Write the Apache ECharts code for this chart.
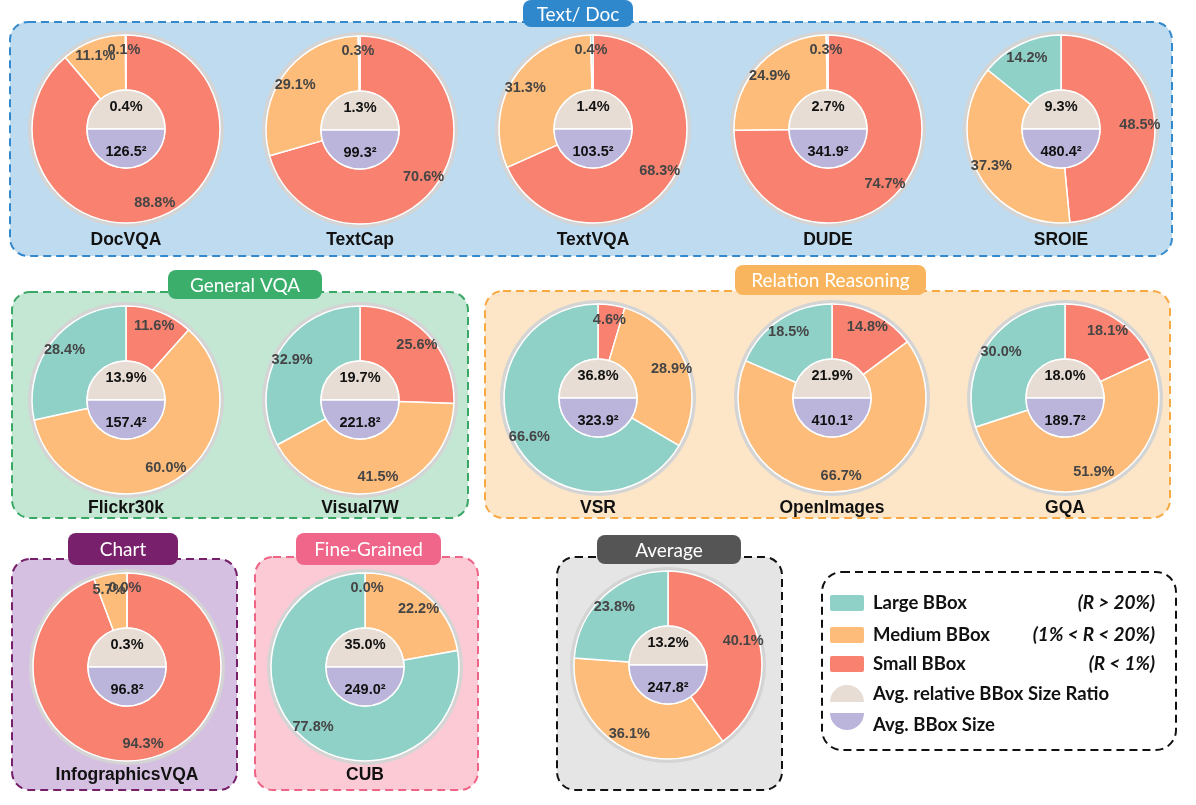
<!DOCTYPE html>
<html><head><meta charset="utf-8">
<script src="https://cdn.jsdelivr.net/npm/echarts@6/dist/echarts.min.js"></script>
<style>html,body{margin:0;padding:0;background:#fff}#c{width:1196px;height:805px}</style>
</head><body><div id="c"></div>
<script>
// ---- data ----
const names  = ['DocVQA','TextCap','TextVQA','DUDE','SROIE','Flickr30k','Visual7W','VSR','OpenImages','GQA','InfographicsVQA','CUB','Average'];
const small  = [88.8, 70.6, 68.3, 74.7, 48.5, 11.6, 25.6,  4.6, 14.8, 18.1, 94.3,  0.0, 40.1];
const medium = [11.1, 29.1, 31.3, 24.9, 37.3, 60.0, 41.5, 28.9, 66.7, 51.9,  5.7, 22.2, 36.1];
const large  = [ 0.1,  0.3,  0.4,  0.3, 14.2, 28.4, 32.9, 66.6, 18.5, 30.0,  0.0, 77.8, 23.8];
const ratio  = [ 0.4,  1.3,  1.4,  2.7,  9.3, 13.9, 19.7, 36.8, 21.9, 18.0,  0.3, 35.0, 13.2];
const bsize  = [126.5, 99.3, 103.5, 341.9, 480.4, 157.4, 221.8, 323.9, 410.1, 189.7, 96.8, 249.0, 247.8];
const groups = ['Text/ Doc','General VQA','Relation Reasoning','Chart','Fine-Grained','Average'];
const legendNames = ['Large BBox','Medium BBox','Small BBox','Avg. relative BBox Size Ratio','Avg. BBox Size'];
const legendNotes = ['(R > 20%)','(1% < R < 20%)','(R < 1%)','',''];

// ---- layout ----
const centers = [[126,129],[360,130],[593,129],[828,129],[1061,129],
                 [126,400],[360,400],[598,398],[832,398],[1065,398],
                 [127,667],[365,667],[668,665]];
const nameY = [240,240,240,240,240,508,508,508,508,508,775,775,null];
const C = {large:'#8fd0c7', medium:'#fdbc79', small:'#f8826f', ratio:'#e7ddd4', size:'#bbb5db', ring:'#d4d4d4'};
const panels = [
  {x:10,y:22,w:1162,h:234,fill:'#bfdbef',stroke:'#3489cc',hx:523,hy:0,hw:110,hh:27,hfill:'#2f87cc'},
  {x:12,y:292,w:456,h:226,fill:'#c4e7d4',stroke:'#3aa865',hx:168,hy:270,hw:154,hh:29,hfill:'#3bae6c'},
  {x:485,y:291,w:685,h:227,fill:'#fde6c8',stroke:'#f7a840',hx:735,hy:265,hw:191,hh:30,hfill:'#f9b55e'},
  {x:12,y:559,w:225,h:231,fill:'#d5c0e1',stroke:'#76206a',hx:68,hy:533,hw:110,hh:32,hfill:'#78206c'},
  {x:255,y:557,w:223,h:233,fill:'#fccad5',stroke:'#ee6485',hx:296,hy:533,hw:145,hh:32,hfill:'#f0658a'},
  {x:557,y:557,w:225,h:233,fill:'#e5e5e5',stroke:'#111',hx:597,hy:535,hw:144,hh:29,hfill:'#555'}
];

const series = [];
const graphics = [];
const LF = 'Liberation Sans, Arial, sans-serif';

panels.forEach((p,i)=>{
  graphics.push({type:'rect',z:-10,shape:{x:p.x,y:p.y,width:p.w,height:p.h,r:18},
    style:{fill:p.fill,stroke:p.stroke,lineWidth:2,lineDash:[8,5]}});
  graphics.push({type:'rect',z:-5,shape:{x:p.hx,y:p.hy,width:p.hw,height:p.hh,r:8},style:{fill:p.hfill}});
  graphics.push({type:'text',z:-4,x:p.hx+p.hw/2,y:p.hy+p.hh/2+1,
    style:{text:groups[i],fill:'#fff',font:'19px Lato, Carlito, sans-serif',textAlign:'center',textVerticalAlign:'middle'}});
});

names.forEach((n,i)=>{
  const c = centers[i];
  // outer grey ring
  series.push({type:'pie',center:c,radius:[93,98],silent:true,label:{show:false},labelLine:{show:false},
    itemStyle:{color:C.ring},data:[{value:1}]});
  // donut
  series.push({type:'pie',center:c,radius:[39,94],startAngle:90,clockwise:true,silent:true,avoidLabelOverlap:false,
    label:{show:false},labelLine:{show:false},itemStyle:{borderColor:'#fff',borderWidth:1.5},
    data:[{value:small[i],itemStyle:{color:C.small}},{value:medium[i],itemStyle:{color:C.medium}},{value:large[i],itemStyle:{color:C.large}}]});
  // percentage labels
  series.push({type:'pie',center:c,radius:[58,94],startAngle:90,clockwise:true,silent:true,avoidLabelOverlap:false,
    minShowLabelAngle:0,stillShowZeroSum:true,minAngle:3,labelLayout:{hideOverlap:false},
    itemStyle:{color:'rgba(0,0,0,0)'},labelLine:{show:false},
    label:{show:true,position:'inside',formatter:p=>p.value.toFixed(1)+'%',color:'#454545',fontWeight:'bold',fontSize:14.5,fontFamily:LF},
    data:[{value:small[i]},{value:medium[i]},{value:large[i]}]});
  // inner half circles
  series.push({type:'pie',center:c,radius:[0,39],startAngle:180,clockwise:true,silent:true,
    itemStyle:{borderColor:'#fff',borderWidth:1.5},labelLine:{show:false},labelLayout:{hideOverlap:false},
    label:{show:true,position:'inside',color:'#111',fontWeight:'bold',fontSize:14.5,fontFamily:LF},
    data:[{value:1,name:ratio[i].toFixed(1)+'%',itemStyle:{color:C.ratio},label:{formatter:'{b}'}},
          {value:1,name:bsize[i].toFixed(1)+'²',itemStyle:{color:C.size},label:{formatter:'{b}'}}]});
  if (nameY[i]!==null){
    graphics.push({type:'text',z:10,x:c[0],y:nameY[i],
      style:{text:n,fill:'#111',font:'bold 17.5px Liberation Sans, Arial, sans-serif',textAlign:'center',textVerticalAlign:'middle'}});
  }
});

// legend box
graphics.push({type:'rect',z:-10,shape:{x:822,y:572,width:354,height:178,r:20},
  style:{fill:'#fff',stroke:'#111',lineWidth:2,lineDash:[8,5]}});
const legY = [603,635,664,694,725];
const legCol = [C.large,C.medium,C.small];
legendNames.forEach((t,k)=>{
  if (k<3){
    graphics.push({type:'rect',shape:{x:830,y:legY[k]-8,width:34,height:16,r:2},style:{fill:legCol[k]}});
  } else if (k===3){
    graphics.push({type:'sector',shape:{cx:847,cy:legY[k]+8,r:17,r0:0,startAngle:Math.PI,endAngle:2*Math.PI},style:{fill:C.ratio}});
  } else {
    graphics.push({type:'sector',shape:{cx:847,cy:legY[k]-12,r:17,r0:0,startAngle:0,endAngle:Math.PI},style:{fill:C.size}});
  }
  graphics.push({type:'text',x:873,y:legY[k],style:{text:t,fill:'#111',font:'bold 18.5px Lato, Carlito, sans-serif',textVerticalAlign:'middle'}});
  if (legendNotes[k]) graphics.push({type:'text',x:1155,y:legY[k],style:{text:legendNotes[k],fill:'#111',font:'italic bold 19px Lato, Carlito, sans-serif',textAlign:'right',textVerticalAlign:'middle'}});
});

const chart = echarts.init(document.getElementById('c'));
chart.setOption({animation:false,backgroundColor:'#fff',graphic:{elements:graphics},series:series});
</script></body></html>
